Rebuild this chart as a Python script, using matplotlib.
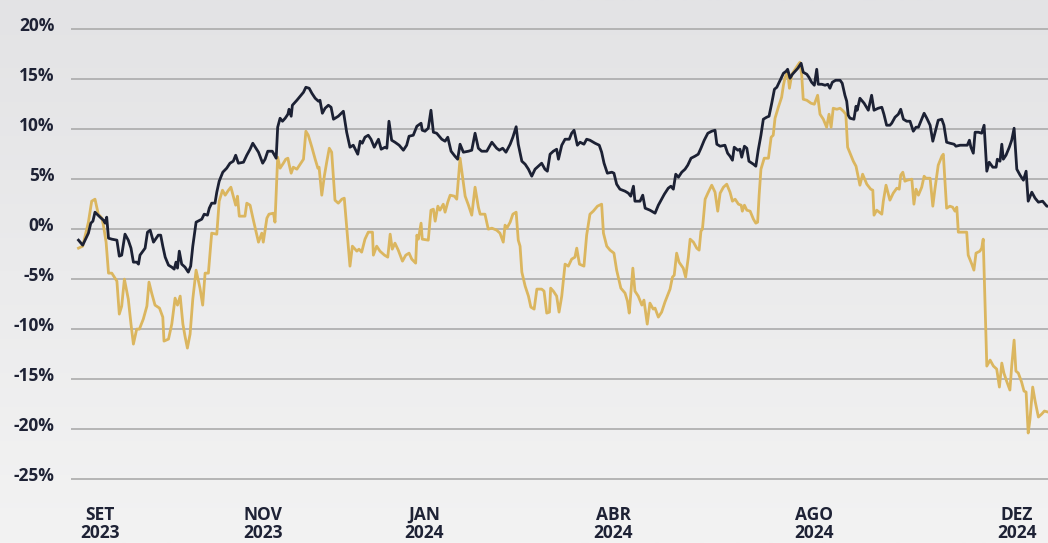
import numpy as np
import matplotlib
matplotlib.use("Agg")
from matplotlib import pyplot as plt
from matplotlib import transforms

# posição (pregão) e retorno acumulado (%) - série escura
t_navy = [-0.2, 1.2, 3.1, 3.9, 4.6, 5.3, 7.0, 8.1, 8.7, 9.2, 9.8, 10.9, 12.6, 13.4, 14.2,
          15.3, 16.4, 17.3, 18.1, 19.2, 19.8, 20.3, 22.0, 22.8, 23.7, 24.8, 26.4, 27.2,
          27.9, 28.7, 29.8, 30.9, 31.7, 32.3, 32.8, 33.4, 34.2, 35.3, 36.4, 37.2, 37.9,
          39.0, 40.9, 41.7, 42.8, 43.4, 44.2, 45.3, 45.9, 46.7, 47.9, 49.2, 50.3, 51.4,
          52.2, 53.1, 54.8, 55.9, 57.0, 57.9, 59.8, 61.2,
          62.0, 62.9, 64.4, 65.7, 66.2, 67.0, 67.8, 68.7, 69.6, 70.0, 70.7, 71.1, 72.6,
          73.7, 74.8, 75.6, 76.7, 77.6, 78.7, 79.8, 80.3, 81.1, 82.0, 83.1, 84.0, 84.8,
          86.4, 88.1, 89.2, 90.3, 91.4, 92.9, 93.7, 94.4, 95.3, 96.4, 97.3, 98.4, 99.8,
          100.7, 102.0, 102.6, 103.3, 104.2, 105.3, 106.7, 108.1, 109.2, 110.0, 111.4,
          112.6, 114.0, 114.4, 115.3, 116.4, 117.3, 118.1, 119.2, 120.9, 122.0, 122.9,
          124.0, 125.3, 126.2,
          127.0, 128.1, 129.8, 130.9, 132.0, 133.1, 134.2, 135.9, 137.6, 139.2, 140.1,
          141.2, 142.3, 143.7, 144.6, 145.7, 146.4, 147.6, 148.7, 149.8, 150.9, 152.0,
          153.1, 154.2, 155.3, 156.1, 157.0, 158.1, 159.2, 159.8, 160.9, 162.0, 163.4,
          164.2, 165.0, 166.1, 167.0, 168.3, 169.2, 170.3, 172.0, 173.4, 174.2, 175.0,
          176.1, 177.6, 178.3, 179.2, 180.3, 182.0, 183.1, 183.9, 184.8, 185.3, 187.0,
          187.9, 188.7, 190.3,
          192.0, 193.1, 194.2, 195.1, 196.4, 197.3, 198.1, 198.9, 199.8, 200.9, 202.0,
          202.9, 204.0, 205.3, 206.4, 207.3, 208.4, 209.6, 210.9, 212.0, 212.6, 213.7,
          215.3, 216.2, 217.0, 217.8, 218.4, 219.6, 220.3, 220.9, 221.8, 222.6, 223.3,
          224.8, 225.6, 226.4, 227.3, 228.1, 229.2, 230.0, 230.9, 231.8, 232.6, 233.7,
          234.8, 235.7, 236.2, 237.0, 237.8, 238.7, 239.6, 240.7, 241.4, 242.6, 243.3,
          244.2, 245.1, 245.9, 246.4, 247.6, 248.7, 249.6, 250.3, 251.1, 252.2, 253.7,
          254.4, 255.3, 255.9, 256.4,
          257.0, 258.3, 259.0, 259.4, 260.3, 261.7, 263.1, 264.2, 265.0, 266.4, 267.6,
          268.3, 269.2, 270.3, 270.9, 272.0, 273.1, 273.9, 274.8, 275.9, 277.0, 278.1,
          279.0, 279.8, 280.9, 281.7, 282.6, 283.7, 284.6, 285.7, 286.4, 287.6, 288.3,
          289.2, 290.3, 291.7, 292.3, 293.7, 294.8, 296.1, 296.8, 297.3, 298.1, 298.7,
          299.8, 300.9, 301.7, 302.6, 303.4, 304.6, 305.7, 306.1, 307.0, 307.6, 308.1,
          309.0, 310.1, 310.9, 311.7, 312.6, 313.7, 314.8, 315.7, 316.4, 317.6, 318.7,
          319.8, 321.2, 322.6, 323.5]
navy = [-1.1, -1.6, -0.4, 0.6, 0.8, 1.7, 1.2, 0.9, 0.6, 1.2, -0.9, -1.0, -1.1, -2.7, -2.6,
        -0.5, -1.1, -1.9, -3.3, -3.3, -3.5, -2.6, -1.9, -0.3, -0.1, -1.3, -0.6, -0.6,
        -1.7, -2.8, -3.6, -3.8, -4.0, -3.3, -3.9, -2.2, -3.5, -3.8, -4.3, -3.7, -1.7,
        0.7, 1.0, 1.5, 1.4, 2.1, 2.6, 2.6, 3.7, 4.8, 5.7, 6.1, 6.6, 6.8,
        7.4, 6.6, 6.7, 7.4, 8.0, 8.6, 7.7, 6.6,
        7.0, 7.8, 7.8, 7.1, 10.2, 11.1, 10.8, 11.1, 11.5, 12.0, 11.3, 12.4, 12.9,
        13.3, 13.7, 14.2, 14.1, 13.6, 13.1, 12.8, 12.9, 11.6, 12.1, 12.4, 12.2, 11.0,
        11.3, 11.8, 9.7, 8.2, 8.4, 7.5, 8.8, 8.6, 9.2, 9.4, 9.0, 8.2, 9.0,
        8.0, 8.2, 8.1, 10.8, 8.9, 8.7, 8.4, 7.9, 8.4, 9.3, 9.4,
        10.3, 10.6, 9.9, 9.8, 10.1, 11.9, 9.7, 9.6, 9.0, 8.8, 9.2,
        7.8, 7.3, 7.0,
        8.5, 7.7, 7.8, 7.9, 9.6, 8.1, 7.8, 7.8, 8.7, 8.1, 7.9,
        8.1, 7.7, 8.5, 9.2, 10.25, 8.5, 6.8, 6.5, 6.0, 5.3, 6.0,
        6.3, 6.6, 6.0, 5.8, 7.5, 7.8, 8.0, 7.0, 8.4, 9.0, 9.0,
        9.6, 9.9, 8.4, 8.7, 8.5, 9.0, 8.9, 8.6, 8.4, 7.7, 6.6,
        5.6, 5.7, 5.6, 4.5, 4.0, 3.8, 3.6, 3.3, 4.3, 2.8, 2.8,
        3.4, 2.1, 1.9,
        1.6, 2.4, 3.0, 3.5, 4.1, 4.3, 4.0, 5.5, 5.2, 5.7, 6.0,
        6.4, 7.1, 7.3, 7.5, 8.1, 8.9, 9.6, 9.8, 9.9, 8.5, 8.3,
        8.4, 7.6, 7.3, 6.9, 8.2, 7.9, 8.0, 7.2, 8.3, 8.1, 6.8,
        6.5, 6.3, 7.9, 9.4, 11.0, 11.2, 11.3, 12.6, 14.0, 14.2, 14.9,
        15.6, 15.8, 16.0, 15.1, 15.5, 15.8, 16.1, 16.6, 15.7, 15.5, 15.2,
        14.7, 14.4, 16.0, 14.5, 14.5, 14.4, 14.5, 14.1, 14.7, 14.9, 14.9,
        14.6, 13.4, 12.8, 11.4,
        11.1, 11.0, 12.3, 11.9, 13.1, 12.6, 11.9, 13.4, 11.9, 12.1, 12.2,
        11.5, 10.4, 10.4, 10.6, 11.2, 11.5, 12.0, 11.0, 10.8, 10.8, 9.8,
        10.2, 10.2, 11.0, 11.6, 11.1, 10.4, 8.8, 10.1, 10.9, 11.0, 10.4,
        8.7, 8.6, 8.5, 8.3, 8.4, 8.4, 8.4, 8.9, 8.2, 7.6, 9.7,
        9.7, 9.6, 10.4, 5.8, 6.7, 6.2, 6.2, 7.0, 6.8, 8.5, 7.0,
        7.4, 8.2, 8.9, 10.1, 6.0, 5.4, 4.9, 5.8, 2.8, 3.7, 3.1,
        2.7, 2.8, 2.3, 2.3]

# posição (pregão) e retorno acumulado (%) - série dourada
t_gold = [-0.2, 1.2, 3.1, 4.2, 5.3, 6.4, 7.6, 8.1, 9.0, 9.8, 10.9, 12.6, 13.4, 14.2, 15.1,
          16.4, 17.3, 18.1, 19.2, 20.1, 21.4, 22.6, 23.3, 24.2, 25.3, 26.8, 27.9, 28.3,
          29.8, 30.9, 32.0, 32.8, 33.7, 34.6, 35.3, 36.1, 37.0, 37.9, 39.0, 40.3, 41.2,
          42.0, 43.1, 44.2, 45.9, 46.7, 47.8, 48.7, 49.8, 50.6, 51.4, 52.2, 52.8, 53.4,
          55.3, 55.9, 57.0, 58.1, 59.8, 60.9, 61.4,
          62.6, 63.3, 64.8, 65.3, 66.2, 67.0, 68.1, 68.9, 69.6, 70.0, 70.7, 71.4, 72.6,
          73.7, 74.8, 75.6, 76.4, 77.6, 78.7, 79.6, 80.0, 80.9, 81.8, 82.6, 83.4, 84.2,
          85.3, 86.4, 87.6, 88.4, 89.2, 90.3, 91.1, 92.6, 93.3, 94.2, 95.3, 96.4, 97.8,
          98.1, 99.2, 100.3, 101.8, 102.9, 103.7, 104.4, 105.3, 106.4, 107.8, 108.9,
          110.0, 110.9, 112.2, 112.6, 113.1, 114.0, 114.4, 116.4, 117.3, 118.1, 118.7,
          119.6, 120.3, 121.4, 122.0, 122.9, 123.7, 125.1, 125.9,
          127.0, 128.7, 129.8, 130.9, 132.0, 133.1, 133.7, 135.3, 136.4, 137.6, 139.2,
          140.3, 141.4, 142.0, 142.6, 143.7, 144.6, 145.7, 146.4, 147.0, 147.6, 148.7,
          149.8, 150.6, 151.7, 152.6, 154.2, 155.0, 155.9, 156.8, 157.2, 158.1, 159.2,
          160.0, 160.9, 162.0, 163.1, 164.2, 165.3, 165.9, 166.8, 168.3, 169.2, 170.3,
          171.4, 172.8, 174.2, 174.8, 175.9, 177.0, 178.3, 179.2, 180.6, 182.0, 182.8,
          183.4, 184.6, 185.3, 186.4, 187.6, 188.3, 189.4, 190.3, 191.4,
          192.0, 193.1, 194.2, 195.3, 197.0, 197.8, 198.4, 199.2, 200.0, 201.4, 202.2,
          203.1, 203.7, 204.8, 205.9, 206.7, 207.3, 207.8, 208.7, 209.6, 210.9, 212.0,
          212.9, 213.7, 214.8, 215.9, 217.0, 217.8, 218.7, 219.8, 220.7, 221.1, 221.8,
          222.6, 223.7, 224.8, 225.6, 226.2, 226.7, 227.3, 228.4, 229.8, 230.7, 231.4,
          232.0, 233.1, 234.2, 234.8, 235.3, 236.2, 236.8, 237.6, 238.7, 239.8, 240.3,
          240.9, 241.4, 242.6, 244.0, 245.1, 246.2, 247.0, 248.1, 249.2, 250.0, 250.7,
          251.4, 252.6, 253.7, 254.8, 255.6, 256.2,
          257.0, 258.1, 259.0, 260.3, 261.2, 262.6, 263.9, 264.6, 265.0, 265.9, 267.6,
          268.1, 269.0, 270.3, 271.4, 272.6, 273.4, 273.9, 274.6, 275.3, 276.1, 277.6,
          278.3, 279.0, 279.8, 280.9, 281.7, 282.3, 283.7, 284.6, 285.3, 286.4, 287.6,
          288.1, 289.2, 290.3, 291.2, 292.0, 292.6, 293.1, 294.6, 295.9, 296.4, 297.6,
          298.3, 299.0, 300.3, 300.9, 301.4, 302.6, 303.7, 304.8, 305.9, 306.8, 307.6,
          308.3, 309.2, 310.3, 310.9, 311.7, 312.3, 313.1, 314.2, 315.0, 315.7, 316.4,
          317.0, 317.9, 318.7, 319.8, 320.9, 321.8, 323.0]
gold = [-1.9, -1.7, 0.7, 2.8, 3.0, 1.5, 1.1, 0.4, -1.3, -4.4, -4.4, -5.2, -8.5, -7.7, -5.0,
        -7.0, -9.5, -11.5, -10.0, -10.0, -9.0, -7.7, -5.3, -6.4, -7.6, -7.9, -8.8, -11.2,
        -11.0, -9.5, -6.9, -7.6, -6.7, -9.5, -10.7, -11.9, -10.5, -7.0, -4.1, -5.9, -7.6,
        -4.4, -4.4, -0.4, -0.5, 2.8, 3.9, 3.4, 3.9, 4.2, 3.3, 2.4, 3.3, 1.3,
        1.3, 2.6, 2.4, 0.9, -1.3, -0.4, -1.3,
        1.1, 1.5, 1.6, 0.7, 7.2, 6.1, 6.6, 7.0, 7.1, 6.5, 5.6, 6.2, 6.0,
        6.5, 7.0, 9.8, 9.4, 8.2, 7.0, 6.1, 6.2, 3.4, 5.4, 6.8, 8.1, 7.7,
        2.9, 2.6, 3.0, 3.1, 0.2, -3.7, -1.7, -2.2, -2.0, -2.3, -1.0, -0.3, -0.3,
        -2.6, -1.7, -2.2, -2.6, -2.8, -0.5, -2.0, -1.4, -2.1, -3.2, -2.6,
        -2.4, -3.0, -3.4, -0.6, -1.0, 0.6, -1.0, -1.1, 1.9, 2.0, 0.8,
        2.3, 1.9, 2.5, 1.7, 2.7, 3.4, 3.3, 3.0,
        7.1, 3.3, 2.4, 1.4, 4.2, 2.2, 1.5, 1.5, 0.0, 0.1, -0.1,
        -0.4, -1.3, 0.4, 0.1, 0.7, 1.5, 1.7, -1.1, -1.7, -4.3, -5.7,
        -6.7, -7.8, -8.0, -6.0, -6.0, -6.2, -8.4, -8.3, -5.9, -6.2, -6.7,
        -8.3, -6.7, -3.5, -3.7, -3.0, -2.8, -1.9, -3.5, -3.7, -0.6, 1.5,
        1.8, 2.3, 2.5, -0.4, -1.7, -2.1, -2.4, -4.1, -5.9, -6.4, -7.2,
        -8.4, -3.9, -6.2, -6.7, -7.6, -7.1, -9.5, -7.4, -8.0,
        -7.9, -8.8, -8.3, -7.3, -6.0, -4.8, -4.6, -2.4, -3.3, -3.9, -4.8,
        -2.8, -1.0, -1.3, -1.9, -2.1, -0.2, 0.0, 3.0, 3.6, 4.4, 3.7,
        1.8, 3.6, 4.2, 4.5, 3.7, 2.8, 3.0, 2.5, 2.4, 1.8, 2.4,
        1.9, 1.8, 1.0, 0.6, 0.7, 3.4, 6.0, 7.1, 7.1, 9.2, 9.4,
        11.1, 12.2, 13.2, 14.4, 15.1, 15.8, 14.1, 15.5, 16.0, 16.5, 16.7,
        15.4, 13.0, 12.9, 12.6, 12.5, 13.4, 11.5, 11.0, 10.2, 11.5, 10.2,
        12.1, 12.0, 12.1, 11.8, 11.5, 8.2,
        7.6, 6.8, 6.3, 4.4, 5.5, 4.5, 4.0, 3.9, 1.4, 1.9, 1.5,
        2.8, 4.4, 2.9, 3.6, 4.1, 4.0, 5.4, 5.7, 4.8, 4.9, 5.0,
        2.5, 4.0, 3.4, 4.2, 5.3, 5.1, 5.1, 2.3, 4.0, 6.4, 7.3,
        7.5, 2.1, 2.3, 2.2, 1.8, 2.2, -0.3, -0.3, -0.3, -2.6, -3.5,
        -4.1, -2.4, -2.2, -1.9, -1.0, -13.7, -13.1, -13.7, -14.0, -15.8, -13.4,
        -14.4, -15.2, -16.1, -13.7, -11.1, -14.2, -14.4, -15.3, -16.2, -16.3, -20.4,
        -19.0, -15.8, -17.2, -18.8, -18.5, -18.2, -18.3]

month_pos = [7, 61.3, 115, 178, 245, 312.7]
month_labels = ["SET\n2023", "NOV\n2023", "JAN\n2024", "ABR\n2024", "AGO\n2024", "DEZ\n2024"]
y_ticks = [20, 15, 10, 5, 0, -5, -10, -15, -20, -25]

NAVY = "#1c2134"
GOLD = "#dbb65f"
TEXT = "#1e2235"

plt.rcParams["font.family"] = ["Open Sans", "DejaVu Sans"]

fig = plt.figure(figsize=(10.48, 5.43), dpi=100)

# fundo em degradê
bg = fig.add_axes([0, 0, 1, 1], zorder=0)
grad = np.linspace(0, 1, 256).reshape(-1, 1)
bg.imshow(grad, aspect="auto", cmap=matplotlib.colors.LinearSegmentedColormap.from_list(
    "bg", ["#e3e3e5", "#f3f3f3"]), extent=[0, 1, 0, 1], origin="upper")
bg.axis("off")

ax = fig.add_axes([71 / 1048, 54 / 543, 1 - 71 / 1048, (489 - 19.3) / 543], zorder=1)
ax.set_facecolor("none")
ax.plot(t_gold, gold, color=GOLD, lw=2.0, solid_joinstyle="round")
ax.plot(t_navy, navy, color=NAVY, lw=2.0, solid_joinstyle="round")

ax.set_xlim(-2.7, 323)
ax.set_ylim(-26, 21)
ax.set_yticks(y_ticks)
ax.set_yticklabels([f"{v}%" for v in y_ticks])
ax.set_xticks(month_pos)
ax.set_xticklabels(month_labels, linespacing=1.0)
ax.grid(axis="y", color="#ababab", lw=1.2)
ax.set_axisbelow(True)
for s in ax.spines.values():
    s.set_visible(False)
ax.tick_params(axis="both", length=0, labelsize=12.5, labelcolor=TEXT)
ax.tick_params(axis="y", pad=12)
ax.tick_params(axis="x", pad=12)
for lab in ax.get_yticklabels() + ax.get_xticklabels():
    lab.set_fontweight("bold")
offset = transforms.ScaledTranslation(0, 5 / 100, fig.dpi_scale_trans)
for lab in ax.get_yticklabels():
    lab.set_transform(lab.get_transform() + offset)

fig.savefig("out.png", dpi=100)
